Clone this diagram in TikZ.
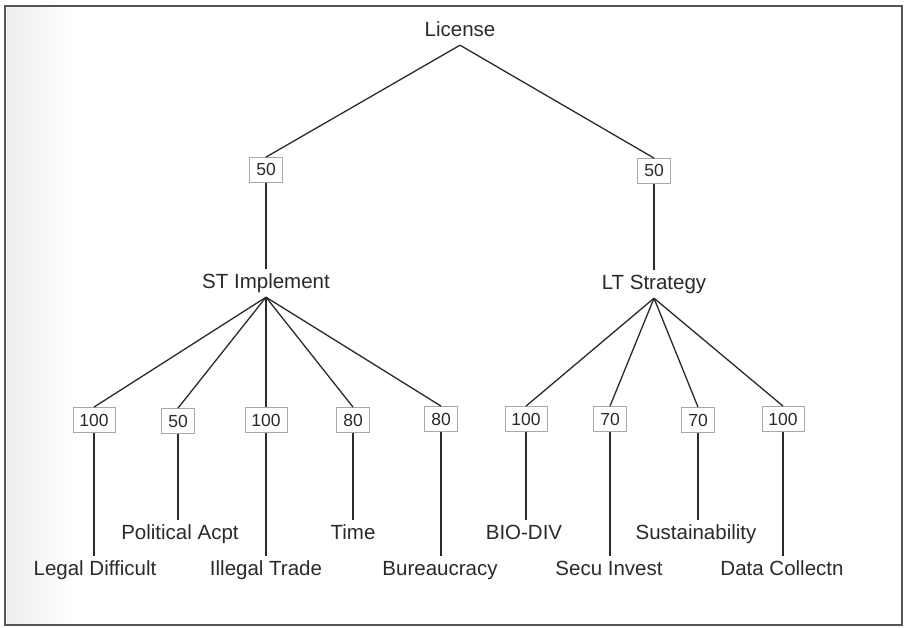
\documentclass[tikz,border=0pt]{standalone}
\usepackage{fontspec}
\setmainfont{Liberation Sans}
\definecolor{ink}{HTML}{2A2A2A}
\definecolor{framec}{HTML}{555555}
\definecolor{boxc}{HTML}{A8A8A8}
\begin{document}
\begin{tikzpicture}[x=1pt,y=-1pt,
  lbl/.style={font=\fontsize{20.5}{22}\selectfont, text=ink, inner xsep=1pt, inner ysep=4.5pt, text height=15pt, text depth=4pt},
  wbox/.style={font=\fontsize{17.5}{20}\selectfont, text=ink, draw=boxc, line width=0.8pt, inner xsep=6.5pt, inner ysep=0pt, minimum height=25pt, text height=13pt, text depth=1pt, fill=white},
  edge/.style={draw=ink, line width=1.3pt}]
\useasboundingbox (0,0) rectangle (904,628);
\fill[white] (0,0) rectangle (904,628);
\shade[left color=gray!14, right color=white, shading angle=90] (7,8) rectangle (70,623);
\draw[framec, line width=2.6pt] (5,6) rectangle (902,625);

\node[lbl] (lic) at (460,31) {License};
\node[wbox] (w1) at (266,170) {50};
\node[wbox] (w2) at (654,171) {50};
\node[lbl] (st) at (266,283) {ST Implement};
\node[lbl] (lt) at (654,284) {LT Strategy};

\node[wbox] (a1) at (94,420) {100};
\node[wbox] (a2) at (178,421) {50};
\node[wbox] (a3) at (266,420) {100};
\node[wbox] (a4) at (353,420) {80};
\node[wbox] (a5) at (441,419) {80};
\node[wbox] (b1) at (526,419) {100};
\node[wbox] (b2) at (610,419) {70};
\node[wbox] (b3) at (698,420) {70};
\node[wbox] (b4) at (783,419) {100};

\node[lbl] (l1) at (95,570) {Legal Difficult};
\node[lbl] (l2) at (180,534) {Political Acpt};
\node[lbl] (l3) at (266,570) {Illegal Trade};
\node[lbl] (l4) at (353,534) {Time};
\node[lbl] (l5) at (440,570) {Bureaucracy};
\node[lbl] (m1) at (524,534) {BIO-DIV};
\node[lbl] (m2) at (609,570) {Secu Invest};
\node[lbl] (m3) at (696,534) {Sustainability};
\node[lbl] (m4) at (782,570) {Data Collectn};

\draw[edge] (lic.south) -- (w1.north);
\draw[edge] (lic.south) -- (w2.north);
\draw[edge] (w1.south) -- (st.north);
\draw[edge] (w2.south) -- (lt.north);
\foreach \b in {a1,a2,a3,a4,a5} \draw[edge] (st.south) -- (\b.north);
\foreach \b in {b1,b2,b3,b4} \draw[edge] (lt.south) -- (\b.north);
\draw[edge] (a1.south) -- (a1.south |- l1.north);
\draw[edge] (a2.south) -- (a2.south |- l2.north);
\draw[edge] (a3.south) -- (a3.south |- l3.north);
\draw[edge] (a4.south) -- (a4.south |- l4.north);
\draw[edge] (a5.south) -- (a5.south |- l5.north);
\draw[edge] (b1.south) -- (b1.south |- m1.north);
\draw[edge] (b2.south) -- (b2.south |- m2.north);
\draw[edge] (b3.south) -- (b3.south |- m3.north);
\draw[edge] (b4.south) -- (b4.south |- m4.north);
\end{tikzpicture}
\end{document}
